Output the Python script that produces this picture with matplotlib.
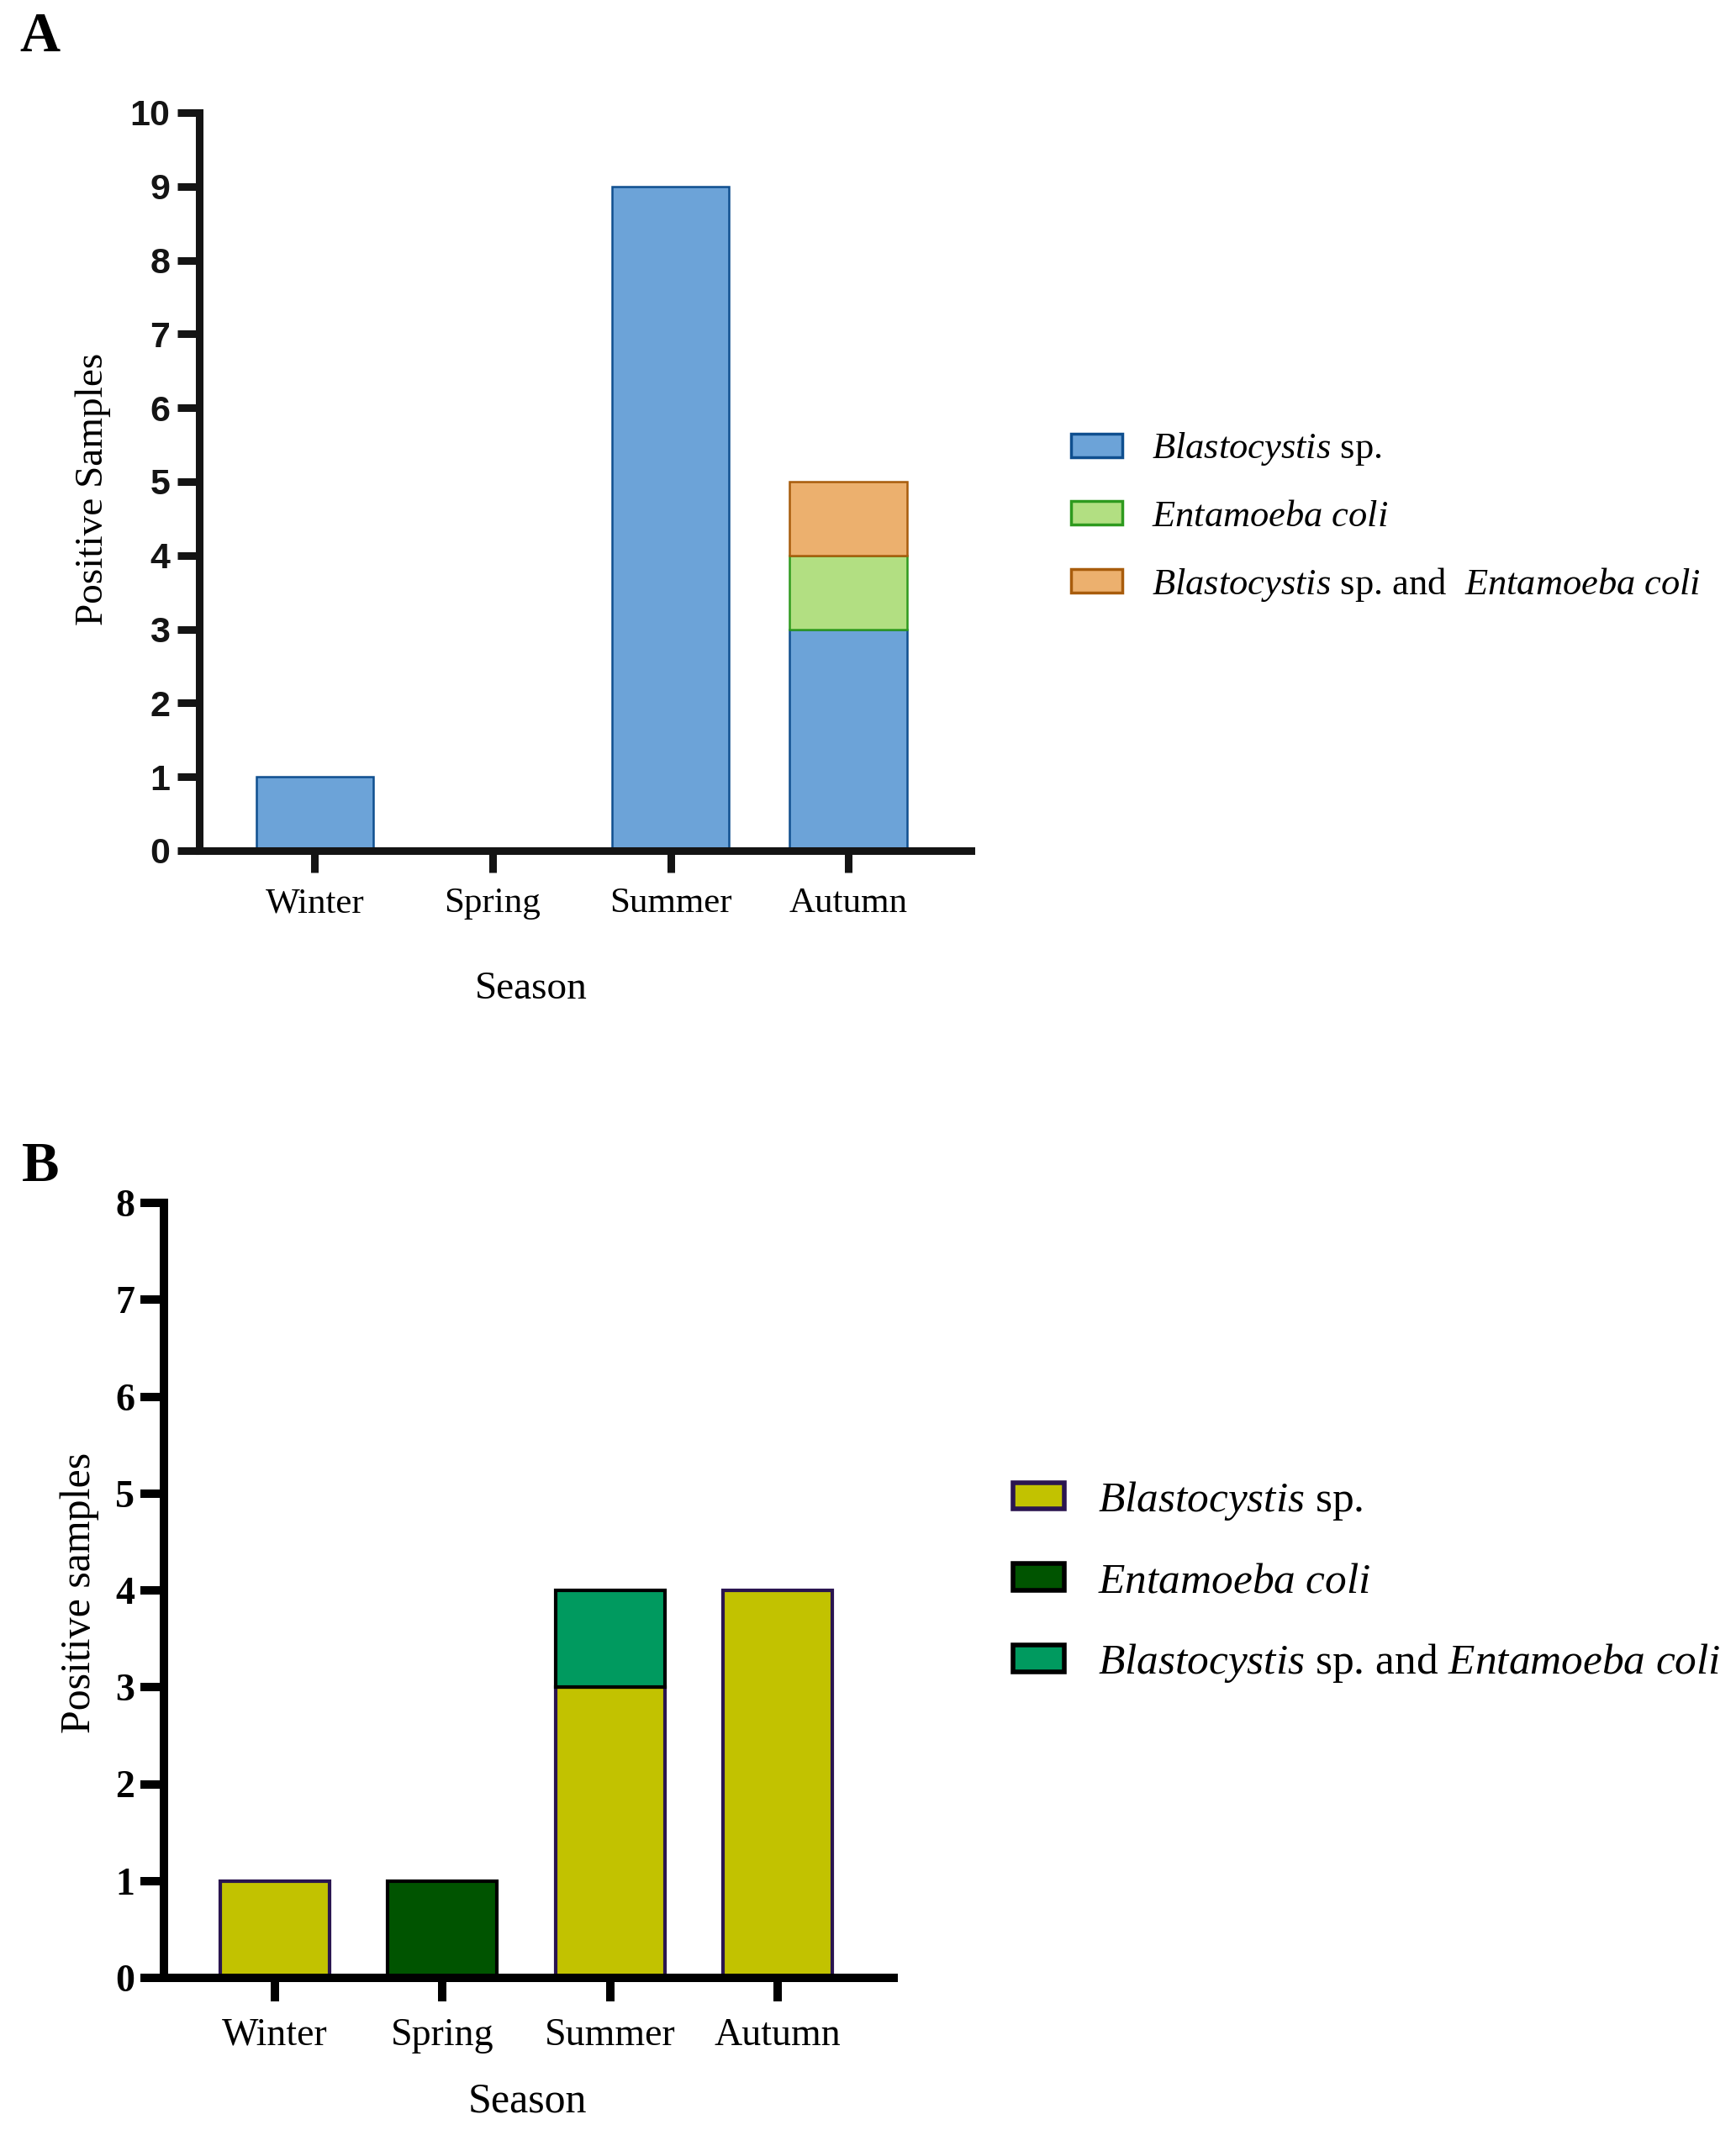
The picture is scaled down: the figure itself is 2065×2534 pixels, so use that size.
import numpy as np
import matplotlib
matplotlib.use("Agg")
import matplotlib.pyplot as plt
import matplotlib.patches as mpatches

plt.rcParams["font.family"] = "Liberation Serif"
plt.rcParams["mathtext.fontset"] = "custom"
plt.rcParams["mathtext.it"] = "Liberation Serif:italic"
plt.rcParams["mathtext.rm"] = "Liberation Serif"

# data
seasons = ["Winter", "Spring", "Summer", "Autumn"]

a_blasto = np.array([1, 0, 9, 3])
a_ecoli = np.array([0, 0, 0, 1])
a_both = np.array([0, 0, 0, 1])

b_blasto = np.array([1, 0, 3, 4])
b_ecoli = np.array([0, 1, 0, 0])
b_both = np.array([0, 0, 1, 0])

a_labels = [r"$Blastocystis$ sp.", r"$Entamoeba\ coli$",
            r"$Blastocystis$ sp. and  $Entamoeba\ coli$"]
b_labels = [r"$Blastocystis$ sp.", r"$Entamoeba\ coli$",
            r"$Blastocystis$ sp. and $Entamoeba\ coli$"]

a_faces = ["#6ca3d8", "#b2df82", "#ecb06e"]
a_edges = ["#0f4f8f", "#2e9a1e", "#a85c0c"]
b_faces = ["#c2c200", "#005400", "#009a5f"]
b_edges = ["#2a1550", "#000000", "#000000"]

W, H = 2065, 2534
fig = plt.figure(figsize=(W / 100, H / 100), dpi=100)


def px_axes(left, top, right, bottom):
    return fig.add_axes([left / W, 1 - bottom / H, (right - left) / W, (bottom - top) / H])


def stacked(ax, series, faces, edges, lw, width):
    x = np.arange(len(seasons))
    base = np.zeros(len(seasons))
    for vals, fc, ec in zip(series, faces, edges):
        m = vals > 0
        ax.bar(x[m], vals[m], bottom=base[m], width=width, color=fc,
               edgecolor=ec, linewidth=lw, zorder=2)
        base = base + vals


def style(ax, spine_w, color, tlen, xpad, ypad, tick_font, tick_size, cat_size):
    for s in ["top", "right"]:
        ax.spines[s].set_visible(False)
    for s in ["left", "bottom"]:
        ax.spines[s].set_linewidth(spine_w)
        ax.spines[s].set_color(color)
        ax.spines[s].set_zorder(3)
    ax.tick_params(axis="both", width=spine_w, length=tlen, direction="out", color=color)
    ax.tick_params(axis="x", pad=xpad, labelsize=cat_size)
    ax.tick_params(axis="y", pad=ypad)
    ax.set_xticks(np.arange(len(seasons)))
    ax.set_xticklabels(seasons)
    for t in ax.get_yticklabels():
        t.set_fontfamily(tick_font)
        t.set_fontweight("bold")
        t.set_fontsize(tick_size)
        t.set_color(color)


# ---- panel A ----
axA = px_axes(237, 134, 1155, 1012)
stacked(axA, [a_blasto, a_ecoli, a_both], a_faces, a_edges, 1.8, 0.66)
axA.set_xlim(-0.65, 3.69)
axA.set_ylim(0, 10)
axA.set_yticks(range(0, 11))
style(axA, 6.5, "#141414", 19, 12.5, 6, "Liberation Sans", 31, 31)
axA.set_ylabel("Positive Samples", fontsize=34)
axA.yaxis.set_label_coords(-0.138, 0.49)
axA.yaxis.label.set_va("center")
axA.set_xlabel("Season", fontsize=34)
axA.xaxis.set_label_coords(0.43, -0.1875)
axA.xaxis.label.set_va("center")

hA = [mpatches.Patch(facecolor=f, edgecolor=e, linewidth=2.5) for f, e in zip(a_faces, a_edges)]
fig.legend(hA, a_labels, loc="center left", bbox_to_anchor=(1274 / W, 1 - 615 / H),
           frameon=False, fontsize=32, handlelength=1.37, handleheight=0.59,
           handletextpad=0.8, labelspacing=0.86, borderpad=0, borderaxespad=0)

# ---- panel B ----
axB = px_axes(195, 1431, 1063, 2353)
stacked(axB, [b_blasto, b_ecoli, b_both], b_faces, b_edges, 3, 0.65)
axB.set_xlim(-0.66, 3.69)
axB.set_ylim(0, 8)
axB.set_yticks(range(0, 9))
style(axB, 7.2, "#000000", 20, 14, 5, "Liberation Serif", 33, 33)
axB.set_ylabel("Positive samples", fontsize=36)
axB.yaxis.set_label_coords(-0.116, 0.497)
axB.yaxis.label.set_va("center")
axB.set_xlabel("Season", fontsize=36)
axB.xaxis.set_label_coords(0.498, -0.16)
axB.xaxis.label.set_va("center")

hB = [mpatches.Patch(facecolor=f, edgecolor=e, linewidth=4) for f, e in zip(b_faces, b_edges)]
fig.legend(hB, b_labels, loc="center left", bbox_to_anchor=(1205 / W, 1 - 1882 / H),
           frameon=False, fontsize=37, handlelength=1.19, handleheight=0.56,
           handletextpad=0.78, labelspacing=0.93, borderpad=0, borderaxespad=0)

# panel letters
fig.text(23 / W, 1 - 14 / H, "A", fontsize=48, fontweight="bold", va="top", ha="left")
fig.text(26 / W, 1 - 1358 / H, "B", fontsize=48, fontweight="bold", va="top", ha="left")

fig.savefig("out.png", dpi=100)
